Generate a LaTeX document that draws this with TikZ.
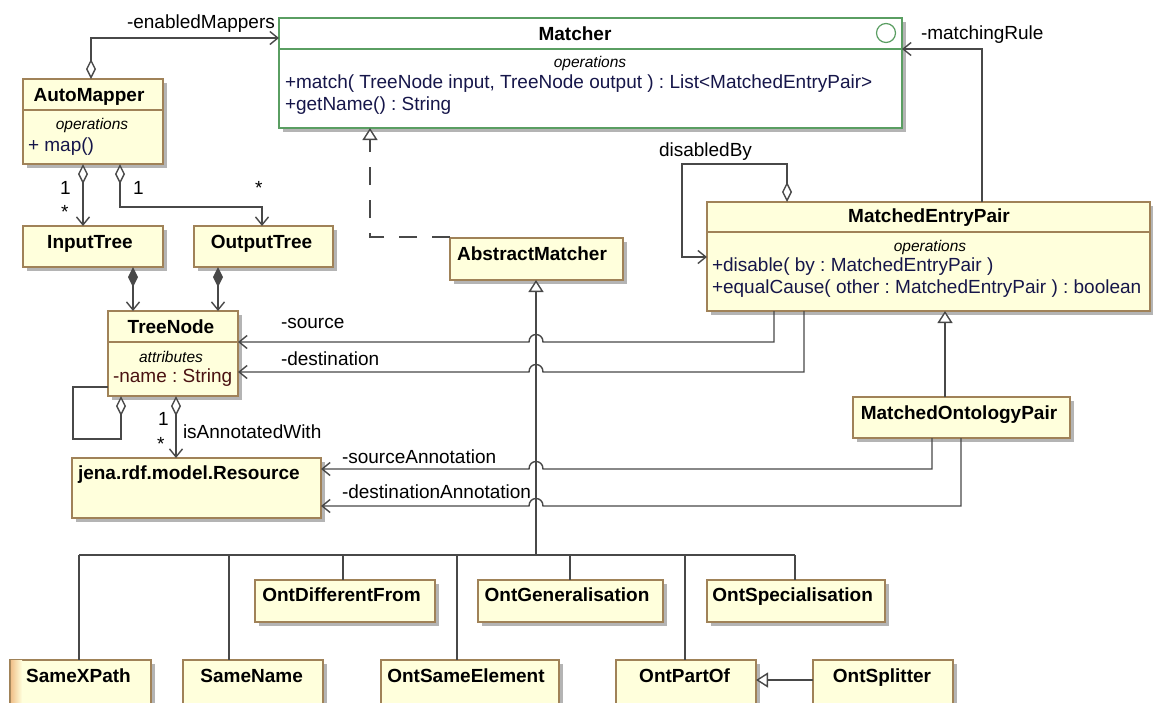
\documentclass[tikz,border=0pt]{standalone}
\usepackage{fontspec}
\setmainfont{Liberation Sans}
\usetikzlibrary{arrows.meta,shadows}
\frenchspacing

\definecolor{boxfill}{HTML}{FFFFDC}
\definecolor{boxborder}{HTML}{A08258}
\definecolor{ifborder}{HTML}{5A9E62}
\definecolor{shadowgray}{HTML}{B4B4B4}
\definecolor{linegray}{HTML}{484848}
\definecolor{optext}{HTML}{16164A}
\definecolor{attrtext}{HTML}{4A1212}
\definecolor{selshade}{HTML}{F0C08A}

\tikzset{
  aggr/.tip={Diamond[fill=white,length=20pt,width=10pt]},
  comp/.tip={Diamond[fill=linegray,length=20pt,width=10pt]},
  openv/.tip={Straight Barb[length=8pt,width=13pt]},
  gen/.tip={Triangle[fill=white,length=12pt,width=15pt]},
}

\begin{document}
\begin{tikzpicture}[x=1pt,y=-1pt,
  every node/.style={inner sep=0pt, outer sep=0pt},
  classbox/.style={draw=boxborder, fill=boxfill, line width=1.2pt, anchor=north west,
    general shadow={fill=shadowgray, shadow xshift=4pt, shadow yshift=-4pt}},
  ifacebox/.style={classbox, draw=ifborder, fill=white},
  divider/.style={draw=boxborder, line width=1.2pt},
  conn/.style={draw=linegray, line width=1.4pt},
  realize/.style={conn, dash pattern=on 18pt off 15pt},
  title/.style={font=\fontsize{19}{22}\selectfont\bfseries, anchor=base},
  member/.style={font=\fontsize{19}{22}\selectfont, text=optext, anchor=base west},
  attr/.style={member, text=attrtext},
  stereo/.style={font=\fontsize{15.5}{18}\selectfont\itshape, anchor=base},
  lbl/.style={font=\fontsize{19}{22}\selectfont, anchor=base west},
]
\useasboundingbox (0,0) rectangle (1153,702);

% ---------- class boxes ----------
\node[ifacebox, minimum width=623pt, minimum height=110pt] (matcher) at (279,18) {};
\node[classbox, minimum width=140pt, minimum height=85pt] (automapper) at (23,79) {};
\node[classbox, minimum width=140pt, minimum height=41pt] (inputtree) at (23,226) {};
\node[classbox, minimum width=139pt, minimum height=41pt] (outputtree) at (194,226) {};
\node[classbox, minimum width=130pt, minimum height=85pt] (treenode) at (108,311) {};
\node[classbox, minimum width=249pt, minimum height=60pt] (jena) at (72,458) {};
\node[classbox, minimum width=173pt, minimum height=42pt] (am) at (450,238) {};
\node[classbox, minimum width=443pt, minimum height=109pt] (mep) at (707,202) {};
\node[classbox, minimum width=217pt, minimum height=41pt] (mop) at (853,397) {};
\node[classbox, minimum width=180pt, minimum height=42pt] (odf) at (255,580) {};
\node[classbox, minimum width=185pt, minimum height=42pt] (ogen) at (478,580) {};
\node[classbox, minimum width=178pt, minimum height=42pt] (ospec) at (707,580) {};
\node[classbox, minimum width=141pt, minimum height=44pt] (sxp) at (10,660) {};
\node[classbox, minimum width=140pt, minimum height=44pt] (sname) at (183,660) {};
\node[classbox, minimum width=178pt, minimum height=44pt] (ose) at (381,660) {};
\node[classbox, minimum width=140pt, minimum height=44pt] (opo) at (616,660) {};
\node[classbox, minimum width=140pt, minimum height=44pt] (osp) at (813,660) {};

% selection tint on the left edge of SameXPath
\shade[left color=selshade, right color=boxfill] (10.8,660.8) rectangle (22,702);

% compartment dividers
\draw[divider, draw=ifborder] (matcher.west |- 0,49) -- (matcher.east |- 0,49);
\draw[divider] (automapper.west |- 0,110) -- (automapper.east |- 0,110);
\draw[divider] (treenode.west |- 0,342) -- (treenode.east |- 0,342);
\draw[divider] (mep.west |- 0,232) -- (mep.east |- 0,232);

% interface symbol
\node[circle, draw=ifborder, line width=1.2pt, minimum size=19pt] (ifsym) at (886,33) {};

% ---------- connectors ----------
% associations and aggregations
\draw[conn, aggr-openv] (91,0 |- automapper.north) |- (matcher.west |- 0,38);
\draw[conn, aggr-openv] (83,0 |- automapper.south) -- (83,0 |- inputtree.north);
\draw[conn, aggr-openv] (120,0 |- automapper.south) -- (120,207) -| (262,0 |- outputtree.north);
\draw[conn, comp-openv] (133,0 |- inputtree.south) -- (133,0 |- treenode.north);
\draw[conn, comp-openv] (218,0 |- outputtree.south) -- (218,0 |- treenode.north);
\draw[conn, aggr-] (121,0 |- treenode.south) |- (73,439) |- (treenode.west |- 0,387);
\draw[conn, aggr-openv] (176,0 |- treenode.south) -- (176,0 |- jena.north);
\draw[conn, -openv] (982,0 |- mep.north) |- (matcher.east |- 0,49);
\draw[conn, aggr-openv] (787,0 |- mep.north) -- (787,164) -| (682,257) -- (mep.west |- 0,257);

% references that hop over the generalization trunk
\draw[conn, -openv] (774,0 |- mep.south) -- (774,342) -- (543,342)
  .. controls (543,332) and (529,332) .. (529,342) -- (treenode.east |- 0,342);
\draw[conn, -openv] (804,0 |- mep.south) -- (804,372) -- (543,372)
  .. controls (543,362) and (529,362) .. (529,372) -- (treenode.east |- 0,372);
\draw[conn, -openv] (932,0 |- mop.south) -- (932,469) -- (543,469)
  .. controls (543,459) and (529,459) .. (529,469) -- (jena.east |- 0,469);
\draw[conn, -openv] (961,0 |- mop.south) -- (961,506) -- (543,506)
  .. controls (543,496) and (529,496) .. (529,506) -- (jena.east |- 0,506);

% realization and generalizations
\draw[realize, -gen] (am.west |- 0,237) -| (370,0 |- matcher.south);
\draw[conn, -gen] (945,0 |- mop.north) -- (945,0 |- mep.south);
\draw[conn, -gen] (osp.west |- 0,680) -- (opo.east |- 0,680);

\coordinate (bus) at (536,555);
\draw[conn, -gen] (bus) -- (bus |- am.south);
\draw[conn] (bus -| 79,0) -- (bus -| 795,0);
\draw[conn] (bus -| 79,0) -- (79,0 |- sxp.north);
\draw[conn] (bus -| 229,0) -- (229,0 |- sname.north);
\draw[conn] (bus -| 343,0) -- (343,0 |- odf.north);
\draw[conn] (bus -| 457,0) -- (457,0 |- ose.north);
\draw[conn] (bus -| 570,0) -- (570,0 |- ogen.north);
\draw[conn] (bus -| 685,0) -- (685,0 |- opo.north);
\draw[conn] (bus -| 795,0) -- (795,0 |- ospec.north);

% ---------- texts in boxes ----------
\node[title] (t-matcher) at (575,40) {Matcher};
\node[stereo] (s-matcher) at (590,67) {operations};
\node[member] (m-match) at (285,88) {+match( TreeNode input, TreeNode output ) : List<MatchedEntryPair>};
\node[member] (m-getname) at (285,110) {+getName() : String};

\node[title] (t-automapper) at (89,101) {AutoMapper};
\node[stereo] (s-automapper) at (92,129) {operations};
\node[member] (m-map) at (28,151) {+ map()};

\node[title] (t-input) at (90,248) {InputTree};
\node[title] (t-output) at (261.5,248) {OutputTree};

\node[title] (t-treenode) at (171,333) {TreeNode};
\node[stereo] (s-treenode) at (171,362) {attributes};
\node[attr] (a-name) at (113,382) {-name : String};

\node[title, anchor=base west] (t-jena) at (78,479) {jena.rdf.model.Resource};
\node[title] (t-am) at (532,260) {AbstractMatcher};

\node[title] (t-mep) at (929,222) {MatchedEntryPair};
\node[stereo] (s-mep) at (930,251) {operations};
\node[member] (m-disable) at (712,271) {+disable( by : MatchedEntryPair )};
\node[member] (m-equal) at (712,293) {+equalCause( other : MatchedEntryPair ) : boolean};

\node[title] (t-mop) at (959,419) {MatchedOntologyPair};

\node[title] (t-odf) at (341.5,601) {OntDifferentFrom};
\node[title] (t-ogen) at (567,601) {OntGeneralisation};
\node[title] (t-ospec) at (792.6,601) {OntSpecialisation};
\node[title] (t-sxp) at (78.5,682) {SameXPath};
\node[title] (t-sname) at (251.7,682) {SameName};
\node[title] (t-ose) at (466,682) {OntSameElement};
\node[title] (t-opo) at (684.6,682) {OntPartOf};
\node[title] (t-osp) at (882,682) {OntSplitter};

% ---------- connector labels ----------
\node[lbl] (l-enabled) at (127,28) {-enabledMappers};
\node[lbl] (l-rule) at (921,39) {-matchingRule};
\node[lbl] (l-disabled) at (659,156) {disabledBy};
\node[lbl] (l-source) at (281,328) {-source};
\node[lbl] (l-dest) at (281,365) {-destination};
\node[lbl] (l-annot) at (183,438) {isAnnotatedWith};
\node[lbl] (l-srcann) at (342,463) {-sourceAnnotation};
\node[lbl] (l-dstann) at (342,498) {-destinationAnnotation};

\node[lbl] (mu-in1) at (60,194) {1};
\node[lbl] (mu-in2) at (61,218) {*};
\node[lbl] (mu-out1) at (133,194) {1};
\node[lbl] (mu-out2) at (255,194) {*};
\node[lbl] (mu-ann1) at (158,425) {1};
\node[lbl] (mu-ann2) at (157,450) {*};
\end{tikzpicture}
\end{document}
